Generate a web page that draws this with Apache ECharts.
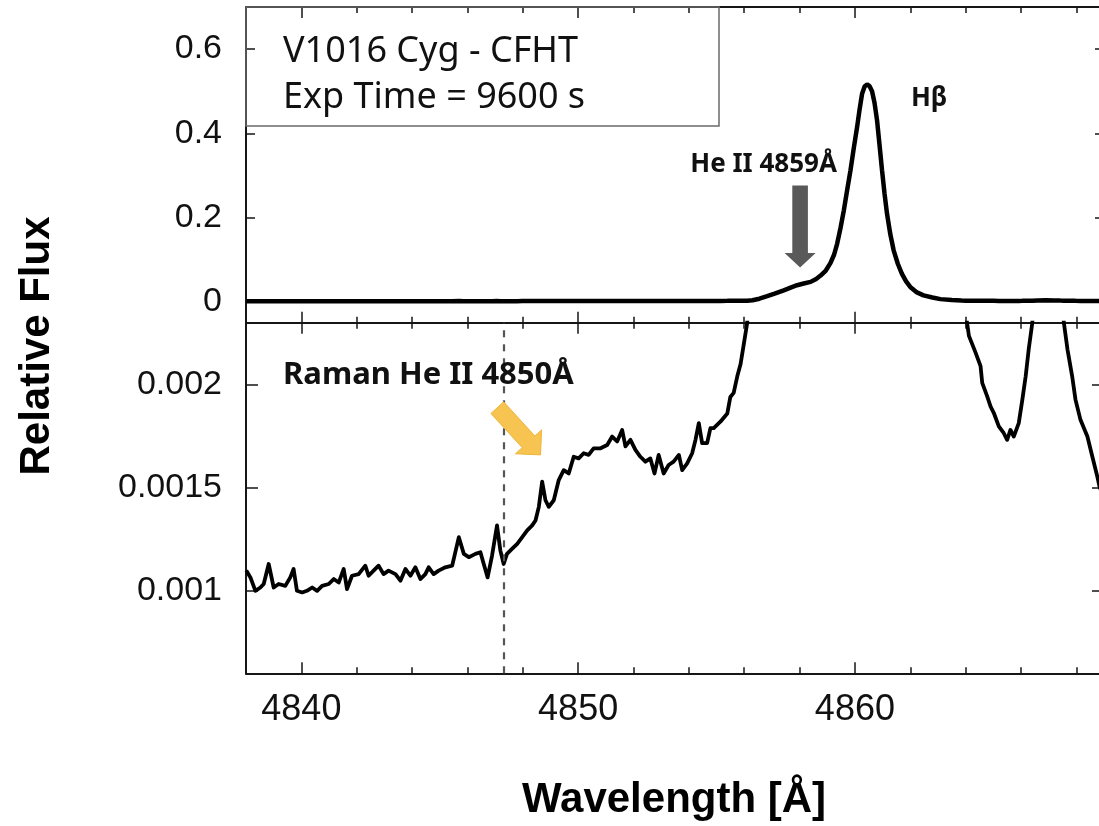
<!DOCTYPE html>
<html><head><meta charset="utf-8">
<script src="https://cdn.jsdelivr.net/npm/echarts@6/dist/echarts.min.js"></script>
<style>html,body{margin:0;padding:0;background:#fff}#c{width:1099px;height:826px}</style>
</head><body><div id="c"></div>
<script>
// ---- data ----
const wavelength = [
4838.01,4838.16,4838.34,4838.52,4838.64,4838.82,4839.00,4839.18,4839.42,4839.60,4839.72,4839.84,
4840.03,4840.20,4840.39,4840.57,4840.75,4840.99,4841.17,4841.35,4841.53,4841.65,4841.83,
4842.07,4842.31,4842.43,4842.61,4842.79,4842.97,4843.15,4843.40,4843.58,4843.76,4843.94,
4844.12,4844.30,4844.48,4844.60,4844.78,4844.96,4845.20,4845.45,4845.69,4845.87,
4846.05,4846.29,4846.47,4846.59,4846.73,4846.89,4847.07,4847.19,4847.31,4847.43,4847.61,4847.80,4847.98,
4848.16,4848.34,4848.46,4848.58,4848.70,4848.82,4848.94,4849.12,4849.30,4849.48,4849.66,4849.84,
4850.02,4850.20,4850.38,4850.56,4850.81,4851.05,4851.23,4851.41,4851.59,4851.71,4851.89,
4852.07,4852.25,4852.43,4852.61,4852.76,4852.91,4853.09,4853.27,4853.45,4853.64,4853.76,4853.94,
4854.12,4854.24,4854.36,4854.48,4854.66,4854.78,4854.90,4855.14,4855.39,4855.50,4855.62,4855.75,4855.87,4855.99,
4856.11,4856.30,4856.55,4856.83,4857.10,4857.43,4857.70,4857.91,4858.15,4858.40,4858.60,4858.76,4858.95,
4859.12,4859.25,4859.36,4859.48,4859.60,4859.72,4859.84,4859.96,4860.08,4860.17,4860.26,4860.35,4860.44,
4860.53,4860.62,4860.71,4860.80,4860.89,4860.98,4861.07,4861.16,4861.28,4861.40,4861.55,4861.70,4861.85,
4862.00,4862.24,4862.48,4862.80,4863.09,4863.50,4863.85,
4864.00,4864.12,4864.36,4864.54,4864.60,4864.78,4864.90,4865.02,4865.20,4865.38,4865.50,4865.62,4865.74,4865.92,
4866.05,4866.17,4866.28,4866.41,4866.60,4866.90,4867.20,4867.42,4867.55,4867.68,4867.85,4867.97,
4868.15,4868.40,4868.58,4868.76,4868.84,4869.10
];
const flux = [
0.001098,0.001065,0.001000,0.001016,0.001033,0.001130,0.001016,0.001033,0.001024,0.001065,0.001106,0.001000,
0.000992,0.001000,0.001016,0.001000,0.001024,0.001033,0.001057,0.001040,0.001106,0.001008,0.001073,
0.001081,0.001122,0.001073,0.001098,0.001122,0.001081,0.001098,0.001081,0.001049,0.001106,0.001073,
0.001114,0.001057,0.001081,0.001114,0.001081,0.001098,0.001114,0.001122,0.001260,0.001179,
0.001163,0.001179,0.001187,0.001130,0.001065,0.001171,0.001317,0.001195,0.001130,0.001179,0.001203,0.001228,0.001260,
0.001293,0.001317,0.001341,0.001407,0.001529,0.001439,0.001407,0.001439,0.001537,0.001585,0.001569,0.001650,
0.001642,0.001667,0.001659,0.001691,0.001691,0.001707,0.001748,0.001724,0.001780,0.001700,0.001732,
0.001683,0.001650,0.001626,0.001642,0.001569,0.001659,0.001569,0.001610,0.001626,0.001659,0.001585,0.001618,
0.001667,0.001732,0.001813,0.001716,0.001716,0.001789,0.001789,0.001820,0.001860,0.001940,0.001960,0.002040,0.002100,0.002200,
0.002300,0.0032,0.007,0.013,0.019,0.027,0.034,0.039,0.043,0.047,0.054,0.062,0.074,
0.092,0.112,0.138,0.175,0.217,0.265,0.312,0.365,0.415,0.457,0.494,0.511,0.516,
0.512,0.500,0.472,0.431,0.372,0.312,0.257,0.209,0.160,0.122,0.090,0.066,0.048,
0.035,0.022,0.015,0.010,0.006,0.0037,0.0027,
0.00235,0.002236,0.002155,0.002089,0.002008,0.001943,0.001894,0.001862,0.001797,0.001764,0.001732,0.001780,0.001748,0.001813,
0.001927,0.002040,0.002171,0.002300,0.00275,0.0031,0.0029,0.0025,0.002300,0.002171,0.002040,0.001927,
0.001829,0.001748,0.001650,0.001553,0.001504,0.00142
];
const xRange = [4838, 4869];
const xMajorTicks = [4840, 4850, 4860];
const xMinorTicks = [4842, 4844, 4846, 4848, 4852, 4854, 4856, 4858, 4862, 4864, 4866, 4868];
const xTickLabels = ['4840', '4850', '4860'];
const topRange = [-0.05, 0.7];
const topYTicks = [0, 0.2, 0.4, 0.6];
const topYLabels = ['0', '0.2', '0.4', '0.6'];
const bottomRange = [0.0006, 0.0023];
const bottomYTicks = [0.001, 0.0015, 0.002];
const bottomYLabels = ['0.001', '0.0015', '0.002'];
const ramanLine = 4847.3;
const boxLines = ['V1016 Cyg - CFHT', 'Exp Time = 9600 s'];
const labelHeII = 'He II 4859Å';
const labelHb = 'Hβ';
const labelRaman = 'Raman He II 4850Å';

const spectrum = wavelength.map((w, i) => [w, flux[i]]);
const AX = '#161616';

function xAx(grid, pos, ticks, len, line, labels) {
  return {
    type: 'value', gridIndex: grid, position: pos, min: xRange[0], max: xRange[1],
    axisLine: { show: line, onZero: false, lineStyle: { color: AX, width: 2 } },
    axisTick: { show: true, inside: true, length: len, customValues: ticks, lineStyle: { color: AX, width: 1.5 } },
    axisLabel: labels ? {
      show: true, customValues: ticks, margin: 19, color: '#111', fontSize: 36,
      fontFamily: 'Liberation Sans, Arial, sans-serif',
      formatter: v => labels[ticks.indexOf(v)] ?? String(v)
    } : { show: false },
    splitLine: { show: false }
  };
}
function yAx(grid, pos, range, ticks, len, labels) {
  return {
    type: 'value', gridIndex: grid, position: pos, min: range[0], max: range[1],
    axisLine: { show: true, onZero: false, lineStyle: { color: AX, width: 2 } },
    axisTick: { show: true, inside: true, length: len, customValues: ticks, lineStyle: { color: AX, width: 1.5 } },
    axisLabel: labels ? {
      show: true, customValues: ticks, margin: 24, color: '#111', fontSize: 34,
      fontFamily: 'Liberation Sans, Arial, sans-serif',
      formatter: v => { let k = ticks.findIndex(t => Math.abs(t - v) < 1e-9); return k >= 0 ? labels[k] : String(v); }
    } : { show: false },
    splitLine: { show: false }
  };
}

const chart = echarts.init(document.getElementById('c'), null, { renderer: 'canvas' });
chart.setOption({
  animation: false,
  backgroundColor: '#fff',
  grid: [
    { left: 246, top: 7, width: 858, height: 315.7, outerBoundsMode: 'none', containLabel: false },
    { left: 246, top: 322.7, width: 858, height: 350.6, outerBoundsMode: 'none', containLabel: false }
  ],
  xAxis: [
    xAx(0, 'bottom', xMajorTicks, 11, true, null),
    xAx(0, 'bottom', xMinorTicks, 6, false, null),
    xAx(0, 'top', xMajorTicks, 11, true, null),
    xAx(0, 'top', xMinorTicks, 6, false, null),
    xAx(1, 'bottom', xMajorTicks, 11, true, xTickLabels),
    xAx(1, 'bottom', xMinorTicks, 6, false, null),
    xAx(1, 'top', xMajorTicks, 11, true, null),
    xAx(1, 'top', xMinorTicks, 6, false, null)
  ],
  yAxis: [
    yAx(0, 'left', topRange, topYTicks, 9, topYLabels),
    yAx(0, 'right', topRange, topYTicks, 9, null),
    yAx(1, 'left', bottomRange, bottomYTicks, 12, bottomYLabels),
    yAx(1, 'right', bottomRange, bottomYTicks, 12, null)
  ],
  series: [
    { type: 'line', xAxisIndex: 0, yAxisIndex: 0, data: spectrum, showSymbol: false, symbol: 'none',
      clip: true, lineStyle: { color: '#000', width: 4.5 }, z: 3 },
    { type: 'line', xAxisIndex: 4, yAxisIndex: 2, data: spectrum, showSymbol: false, symbol: 'none',
      clip: true, lineStyle: { color: '#000', width: 3.8, join: 'round' }, z: 3,
      markLine: { silent: true, symbol: 'none', label: { show: false },
        lineStyle: { color: '#555', width: 2.2, type: [7, 7] },
        data: [{ xAxis: ramanLine }] } }
  ]
});

function px(ax, ay, p) { return chart.convertToPixel({ xAxisIndex: ax, yAxisIndex: ay }, p); }

// gray arrow (top panel)
const gTip = px(0, 0, [4858.02, 0.081]);
const gTop = px(0, 0, [4858.02, 0.276]);
const gs = 7.8, gh = 15.5, gl = 14.6;
const grayArrow = [[gTip[0]-gs, gTop[1]], [gTip[0]+gs, gTop[1]], [gTip[0]+gs, gTip[1]-gl], [gTip[0]+gh, gTip[1]-gl],
  [gTip[0], gTip[1]], [gTip[0]-gh, gTip[1]-gl], [gTip[0]-gs, gTip[1]-gl]];

// yellow arrow (bottom panel)
const yTail = px(4, 2, [4847.08, 0.001888]);
const yTip = px(4, 2, [4848.64, 0.001659]);
const dx = yTip[0]-yTail[0], dy = yTip[1]-yTail[1], L = Math.hypot(dx, dy);
const d = [dx/L, dy/L], n = [-d[1], d[0]];
const hw = 17.7, hl = 17.7, sw = 8.6;
const B = [yTip[0]-d[0]*hl, yTip[1]-d[1]*hl];
const yellowArrow = [
  [yTail[0]+n[0]*sw, yTail[1]+n[1]*sw], [B[0]+n[0]*sw, B[1]+n[1]*sw], [B[0]+n[0]*hw, B[1]+n[1]*hw],
  [yTip[0], yTip[1]], [B[0]-n[0]*hw, B[1]-n[1]*hw], [B[0]-n[0]*sw, B[1]-n[1]*sw], [yTail[0]-n[0]*sw, yTail[1]-n[1]*sw]];

const pHeII = px(0, 0, [4856.70, 0.326]);
const pHb = px(0, 0, [4862.68, 0.483]);
const pRaman = px(4, 2, [4844.59, 0.002044]);

const annFont = '"Noto Sans", "Noto Sans CJK KR", sans-serif';
chart.setOption({
  graphic: [
    { type: 'rect', shape: { x: 246, y: 7, width: 473, height: 119 }, style: { fill: 'rgba(255,255,255,0)', stroke: '#6a6a6a', lineWidth: 1.5 }, z: 10 },
    { type: 'text', x: 283, y: 52, style: { text: boxLines[0], fontSize: 36, fontFamily: annFont, fill: '#111', textAlign: 'left', textVerticalAlign: 'middle' }, z: 10 },
    { type: 'text', x: 283, y: 98, style: { text: boxLines[1], fontSize: 36, fontFamily: annFont, fill: '#111', textAlign: 'left', textVerticalAlign: 'middle' }, z: 10 },
    { type: 'text', x: pHeII[0], y: pHeII[1], style: { text: labelHeII, fontSize: 26, fontWeight: 'bold', fontFamily: annFont, fill: '#111', textAlign: 'center', textVerticalAlign: 'middle' }, z: 10 },
    { type: 'text', x: pHb[0], y: pHb[1], style: { text: labelHb, fontSize: 26, fontWeight: 'bold', fontFamily: annFont, fill: '#111', textAlign: 'center', textVerticalAlign: 'middle' }, z: 10 },
    { type: 'text', x: pRaman[0], y: pRaman[1], style: { text: labelRaman, fontSize: 31, fontWeight: 'bold', fontFamily: annFont, fill: '#111', textAlign: 'center', textVerticalAlign: 'middle' }, z: 10 },
    { type: 'polygon', shape: { points: grayArrow }, style: { fill: '#595959' }, z: 10 },
    { type: 'polygon', shape: { points: yellowArrow }, style: { fill: '#F7C452', stroke: '#EFB43A', lineWidth: 1 }, z: 10 },
    { type: 'text', x: 37, y: 346, rotation: Math.PI / 2, style: { text: 'Relative Flux', fontSize: 42, fontWeight: 'bold', fontFamily: 'Liberation Sans, Arial, sans-serif', fill: '#000', textAlign: 'center', textVerticalAlign: 'middle' }, z: 10 },
    { type: 'text', x: 674, y: 800, style: { text: 'Wavelength [Å]', fontSize: 42, fontWeight: 'bold', fontFamily: 'Liberation Sans, Arial, sans-serif', fill: '#000', textAlign: 'center', textVerticalAlign: 'middle' }, z: 10 }
  ]
});
</script></body></html>
